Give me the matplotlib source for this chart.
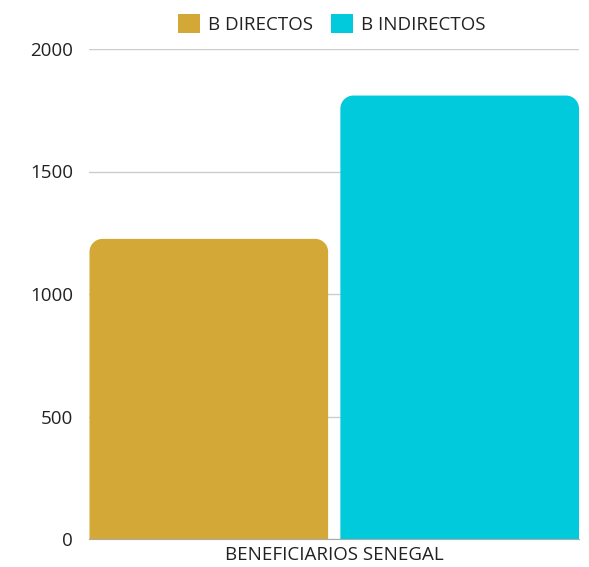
import matplotlib
matplotlib.use("Agg")
import matplotlib.pyplot as plt
from matplotlib.path import Path
from matplotlib.patches import PathPatch, Patch
import numpy as np

plt.rcParams['font.family'] = ['Open Sans', 'DejaVu Sans']

category = "BENEFICIARIOS SENEGAL"
series = ["B DIRECTOS", "B INDIRECTOS"]
values = [1225, 1810]
colors = ["#D4A836", "#00CADB"]
yticks = [0, 500, 1000, 1500, 2000]

W, H = 589, 567
fig = plt.figure(figsize=(W/100, H/100), dpi=100)
ax = fig.add_axes([89/W, 1-539/H, 490/W, 490/H])
ax.set_xlim(-0.5, 0.5)
ax.set_ylim(0, 2000)

offsets = [-0.2555, 0.2565]
width = 0.487
radius_px = 13
xs_per_px = 1.0 / 490
ys_per_px = 2000.0 / 490
rx = radius_px * xs_per_px
ry = radius_px * ys_per_px
k = 0.5523

def rounded_top(x0, x1, y0, y1):
    verts = [
        (x0, y0), (x0, y1 - ry),
        (x0, y1 - ry + k*ry), (x0 + rx - k*rx, y1), (x0 + rx, y1),
        (x1 - rx, y1),
        (x1 - rx + k*rx, y1), (x1, y1 - ry + k*ry), (x1, y1 - ry),
        (x1, y0), (x0, y0)]
    codes = [Path.MOVETO, Path.LINETO,
             Path.CURVE4, Path.CURVE4, Path.CURVE4,
             Path.LINETO,
             Path.CURVE4, Path.CURVE4, Path.CURVE4,
             Path.LINETO, Path.CLOSEPOLY]
    return Path(verts, codes)

for off, v, c in zip(offsets, values, colors):
    p = rounded_top(off - width/2, off + width/2, 0, v)
    ax.add_patch(PathPatch(p, facecolor=c, edgecolor='none', zorder=3))

fs = 13.5
ax.set_yticks(yticks)
ax.set_yticklabels([str(t) for t in yticks], fontsize=fs, color='#222222')
ax.grid(axis='y', color='#cccccc', linewidth=1, zorder=0)
ax.set_axisbelow(True)
ax.tick_params(axis='y', length=0, pad=11.5)
ax.set_xticks([0])
ax.set_xticklabels([category], fontsize=fs, color='#222222')
ax.tick_params(axis='x', length=0, pad=5)
for s in ['top', 'right', 'left']:
    ax.spines[s].set_visible(False)
ax.spines['bottom'].set_color('#aaaaaa')

handles = [Patch(facecolor=c, edgecolor='none') for c in colors]
fig.legend(handles, series, loc='center', bbox_to_anchor=(332/W, 1-24/H),
           ncol=2, frameon=False, fontsize=fs, handlelength=1.17, handleheight=1.17,
           handletextpad=0.43, columnspacing=0.96, labelcolor='#222222')

fig.savefig("out.png", dpi=100)
